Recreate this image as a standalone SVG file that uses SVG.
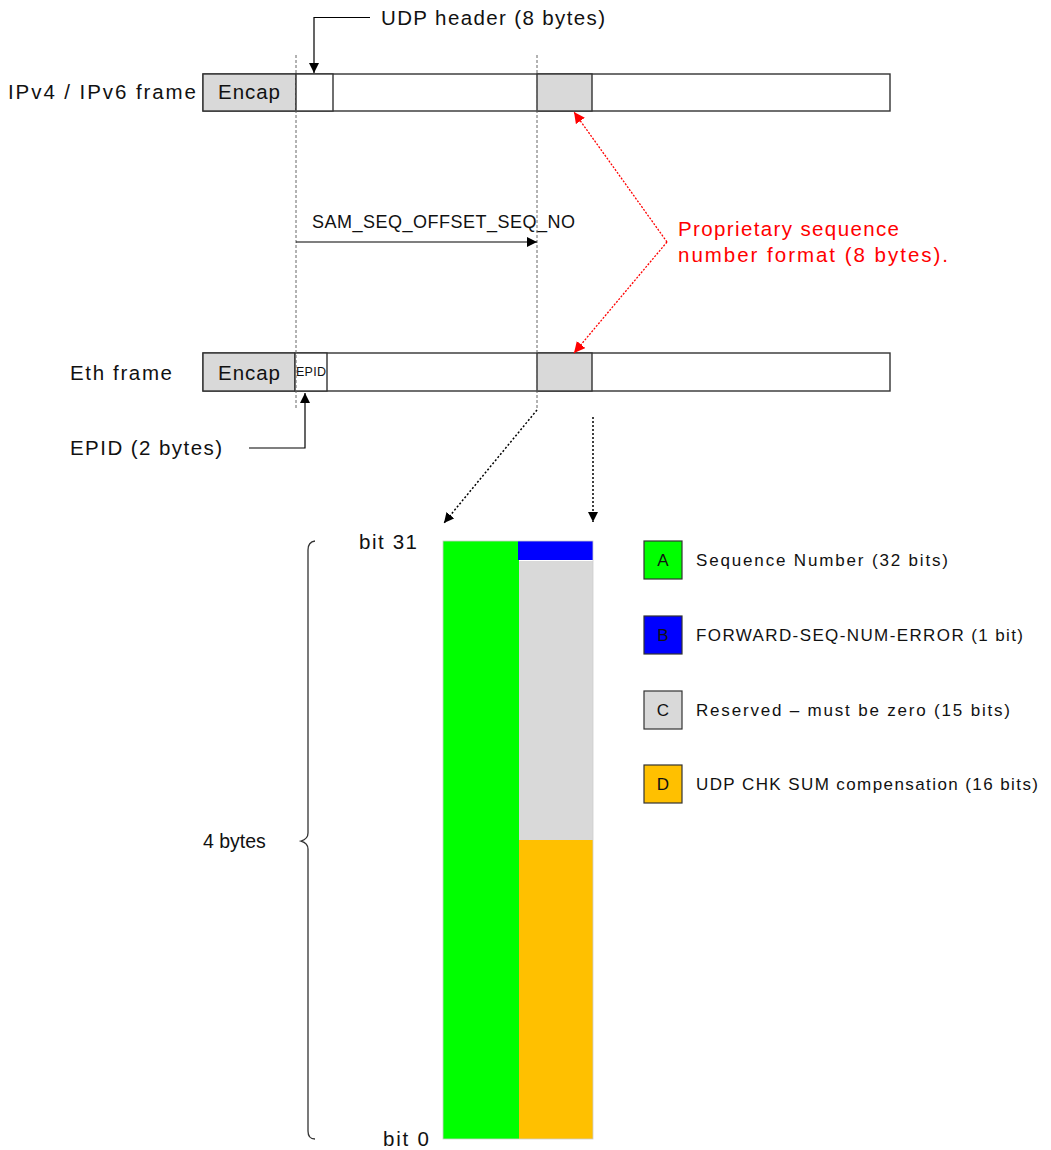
<svg xmlns="http://www.w3.org/2000/svg" width="1051" height="1150" viewBox="0 0 1051 1150">
<defs>
<style>
text{font-family:"Liberation Sans",Arial,sans-serif;fill:#111}
.lbl{font-size:20.5px}
.lg{font-size:17px}
.red{fill:#ff0000;font-size:20.5px}
.frame{fill:#fff;stroke:#333;stroke-width:1.4}
.gray{fill:#d9d9d9;stroke:#333;stroke-width:1.4}
.guide{stroke:#666;stroke-width:1;stroke-dasharray:3,2;fill:none}
.conn{stroke:#000;stroke-width:1.2;fill:none}
.dot{stroke:#000;stroke-width:1.5;stroke-dasharray:2,2;fill:none}
.rdot{stroke:#ff0000;stroke-width:1.3;stroke-dasharray:2,1.5;fill:none}
.key{stroke:#333;stroke-width:1.2}
</style>
<marker id="ah" viewBox="0 0 10 10" refX="10" refY="5" markerWidth="10" markerHeight="10" markerUnits="userSpaceOnUse" orient="auto"><path d="M0,0 L10,5 L0,10 z" fill="#000"/></marker>
<marker id="ahr" viewBox="0 0 10 10" refX="10" refY="5" markerWidth="11" markerHeight="11" markerUnits="userSpaceOnUse" orient="auto"><path d="M0,0 L10,5 L0,10 z" fill="#ff0000"/></marker>
</defs>
<rect width="1051" height="1150" fill="#fff"/>

<g id="ipv4-frame">
<rect class="frame" x="203" y="74" width="687" height="37"/>
<rect class="gray" x="203" y="74" width="93" height="37"/>
<rect class="frame" x="296" y="74" width="37" height="37"/>
<rect class="gray" x="537" y="74" width="55" height="37"/>
<text class="lbl" x="8" y="99" textLength="188" lengthAdjust="spacing">IPv4 / IPv6 frame</text>
<text class="lbl" x="218" y="99" textLength="62" lengthAdjust="spacing">Encap</text>
</g>

<g id="eth-frame">
<rect class="frame" x="203" y="353" width="687" height="38"/>
<rect class="gray" x="203" y="353" width="92" height="38"/>
<rect class="frame" x="295" y="353" width="32" height="38"/>
<rect class="gray" x="537" y="353" width="55" height="38"/>
<text class="lbl" x="70" y="380" textLength="102" lengthAdjust="spacing">Eth frame</text>
<text class="lbl" x="218" y="380" textLength="62" lengthAdjust="spacing">Encap</text>
<text x="296" y="376" font-size="12.5" textLength="30" lengthAdjust="spacing">EPID</text>
</g>

<g id="udp-header-label">
<text class="lbl" x="381" y="25" textLength="224" lengthAdjust="spacing">UDP header (8 bytes)</text>
</g>
<g id="epid-label">
<text class="lbl" x="70" y="455" textLength="152" lengthAdjust="spacing">EPID (2 bytes)</text>
</g>
<g id="offset-label">
<text x="312" y="228" font-size="18" textLength="263" lengthAdjust="spacing">SAM_SEQ_OFFSET_SEQ_NO</text>
</g>
<g id="proprietary-label">
<text class="red" x="678" y="236" textLength="221" lengthAdjust="spacing">Proprietary sequence</text>
<text class="red" x="678" y="262" textLength="270" lengthAdjust="spacing">number format (8 bytes).</text>
</g>

<g id="connectors">
<line class="guide" x1="296" y1="55" x2="296" y2="410"/>
<line class="guide" x1="537" y1="55" x2="537" y2="410"/>
<path class="conn" d="M370,17.5 L314,17.5 L314,73" marker-end="url(#ah)"/>
<path class="conn" d="M249,448 L305,448 L305,393" marker-end="url(#ah)"/>
<line class="conn" x1="296" y1="242" x2="537" y2="242" marker-end="url(#ah)"/>
<path class="rdot" d="M667,242 L574,112" marker-end="url(#ahr)"/>
<path class="rdot" d="M667,242 L574,353" marker-end="url(#ahr)"/>
<path class="dot" d="M537,410 L444,523" marker-end="url(#ah)" stroke-dasharray="4,1"/>
<path class="dot" d="M593,417 L593,522" marker-end="url(#ah)"/>
</g>

<g id="bitfield">
<rect x="443" y="541" width="76" height="598" fill="#00ff00"/>
<rect x="518" y="541" width="75" height="19" fill="#0000ff"/>
<rect x="519" y="561" width="74" height="279" fill="#d9d9d9"/>
<rect x="519" y="840" width="74" height="299" fill="#ffc000"/>
<rect x="443" y="541" width="150" height="598" fill="none" stroke="#ccc" stroke-width="0.8"/>
</g>

<g id="brace">
<path d="M315,541 Q308,542 308,550 L308,833 Q308,839 301,841 Q308,843 308,849 L308,1131 Q308,1139 315,1139" fill="none" stroke="#333" stroke-width="1.3"/>
<text x="203" y="848" font-size="19.5">4 bytes</text>
<text class="lbl" x="359" y="549" textLength="58" lengthAdjust="spacing">bit 31</text>
<text class="lbl" x="383" y="1146" textLength="46" lengthAdjust="spacing">bit 0</text>
</g>

<g id="legend-a">
<rect class="key" x="644" y="541" width="38" height="38" fill="#00ff00"/>
<text class="lg" x="663" y="566" text-anchor="middle">A</text>
<text class="lg" x="696" y="566" textLength="252" lengthAdjust="spacing">Sequence Number (32 bits)</text>
</g>
<g id="legend-b">
<rect class="key" x="644" y="616" width="38" height="38" fill="#0000ff"/>
<text class="lg" x="663" y="641" text-anchor="middle">B</text>
<text class="lg" x="696" y="641" textLength="327" lengthAdjust="spacing">FORWARD-SEQ-NUM-ERROR (1 bit)</text>
</g>
<g id="legend-c">
<rect class="key" x="644" y="691" width="38" height="38" fill="#d9d9d9"/>
<text class="lg" x="663" y="716" text-anchor="middle">C</text>
<text class="lg" x="696" y="716" textLength="314" lengthAdjust="spacing">Reserved – must be zero (15 bits)</text>
</g>
<g id="legend-d">
<rect class="key" x="644" y="765" width="38" height="38" fill="#ffc000"/>
<text class="lg" x="663" y="790" text-anchor="middle">D</text>
<text class="lg" x="696" y="790" textLength="342" lengthAdjust="spacing">UDP CHK SUM compensation (16 bits)</text>
</g>
</svg>
